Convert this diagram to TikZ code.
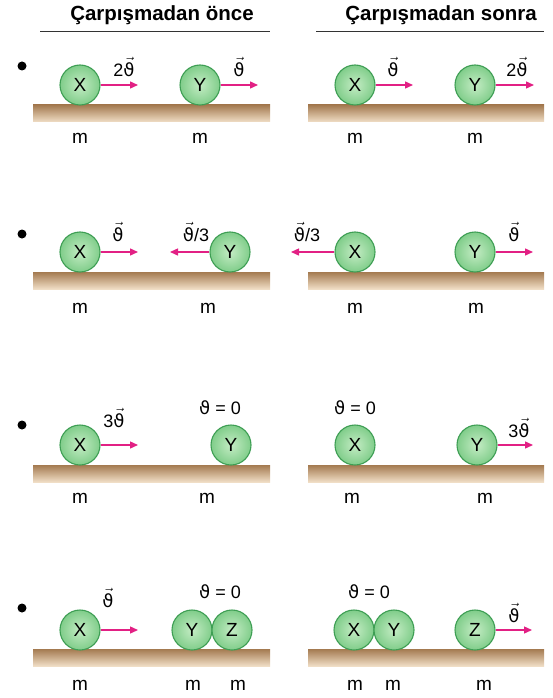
\documentclass[tikz,border=0pt]{standalone}
\usepackage{fontspec}
\setmainfont{Liberation Sans}
\newfontfamily\thetafont{DejaVu Sans}
\usetikzlibrary{positioning,arrows.meta,calc}
\definecolor{ballin}{RGB}{196,236,196}
\definecolor{ballout}{RGB}{128,205,138}
\definecolor{balledge}{RGB}{62,158,84}
\definecolor{velpink}{RGB}{226,32,132}
\definecolor{groundtop}{RGB}{164,122,80}
\definecolor{groundbot}{RGB}{240,222,198}
\newcommand{\vth}{\ensuremath{\vec{\hbox{\thetafont ϑ}}}}
\newcommand{\thz}{{\thetafont ϑ}}

\begin{document}
\begin{tikzpicture}[x=1pt, y=1pt,
    ball/.style={circle, draw=balledge, line width=1.1pt, inner color=ballin, outer color=ballout,
                 minimum size=40pt, inner sep=0pt, font=\fontsize{19}{19}\selectfont},
    ground/.style={top color=groundtop, bottom color=groundbot},
    vel/.style={-{Triangle[length=8pt, width=7pt]}, velpink, line width=1.4pt},
    vlbl/.style={font=\fontsize{18}{18}\selectfont, inner sep=0pt},
    mass/.style={font=\fontsize{19}{19}\selectfont},
    hdr/.style={font=\fontsize{20.5}{20.5}\selectfont\bfseries},
    dot/.style={circle, fill=black, minimum size=9pt, inner sep=0pt}
  ]
  \useasboundingbox (0,0) rectangle (552,-698);

  % ===== Headers =====
  \node[hdr] (before) at (162,-15) {Çarpışmadan önce};
  \node[hdr] (after)  at (441,-15) {Çarpışmadan sonra};
  \draw[line width=1pt, black!80] (40,-32) -- (270,-32);
  \draw[line width=1pt, black!80] (316,-32) -- (544,-32);

  % ===== Floors and bullets =====
  \foreach \yt/\yb/\yd in {105/122/66, 272/289/234, 465/482/425, 649/666/608} {
    \shade[ground] (33,-\yt) rectangle (270,-\yb);
    \shade[ground] (308,-\yt) rectangle (544,-\yb);
    \node[dot] at (22,-\yd) {};
  }

  % ===== Row 1 =====
  \node[ball] (x1a) at (80,-85)  {X};
  \node[ball] (y1a) at (200,-85) {Y};
  \coordinate (x1aend) at (138,-85);
  \coordinate (y1aend) at (258,-85);
  \draw[vel] (x1a.east) -- (x1aend);
  \draw[vel] (y1a.east) -- (y1aend);
  \node[vlbl] at (124,-67) {2\vth};
  \node[vlbl] at (239,-67) {\vth};
  \node[mass] at (80,-138)  {m};
  \node[mass] at (200,-138) {m};

  \node[ball] (x1b) at (355,-85) {X};
  \node[ball] (y1b) at (475,-85) {Y};
  \coordinate (x1bend) at (413,-85);
  \coordinate (y1bend) at (534,-85);
  \draw[vel] (x1b.east) -- (x1bend);
  \draw[vel] (y1b.east) -- (y1bend);
  \node[vlbl] at (393,-67) {\vth};
  \node[vlbl] at (517,-67) {2\vth};
  \node[mass] at (355,-138) {m};
  \node[mass] at (475,-138) {m};

  % ===== Row 2 =====
  \node[ball] (x2a) at (80,-252)  {X};
  \node[ball] (y2a) at (230,-252) {Y};
  \coordinate (x2aend) at (138,-252);
  \coordinate (y2aend) at (170,-252);
  \draw[vel] (x2a.east) -- (x2aend);
  \draw[vel] (y2a.west) -- (y2aend);
  \node[vlbl] at (118,-232) {\vth};
  \node[vlbl] at (196,-232) {\vth/3};
  \node[mass] at (80,-308)  {m};
  \node[mass] at (208,-308) {m};

  \node[ball] (x2b) at (355,-252) {X};
  \node[ball] (y2b) at (475,-252) {Y};
  \coordinate (x2bend) at (291,-252);
  \coordinate (y2bend) at (533,-252);
  \draw[vel] (x2b.west) -- (x2bend);
  \draw[vel] (y2b.east) -- (y2bend);
  \node[vlbl] at (307,-232) {\vth/3};
  \node[vlbl] at (514,-232) {\vth};
  \node[mass] at (355,-308) {m};
  \node[mass] at (476,-308) {m};

  % ===== Row 3 =====
  \node[ball] (x3a) at (80,-445)  {X};
  \node[ball] (y3a) at (231,-445) {Y};
  \coordinate (x3aend) at (138,-445);
  \draw[vel] (x3a.east) -- (x3aend);
  \node[vlbl] at (114,-418) {3\vth};
  \node[vlbl] at (220,-408) {\thz{} = 0};
  \node[mass] at (80,-498)  {m};
  \node[mass] at (207,-498) {m};

  \node[ball] (x3b) at (355,-445) {X};
  \node[ball] (y3b) at (477,-445) {Y};
  \coordinate (y3bend) at (533,-445);
  \draw[vel] (y3b.east) -- (y3bend);
  \node[vlbl] at (355,-408) {\thz{} = 0};
  \node[vlbl] at (519,-428) {3\vth};
  \node[mass] at (352,-498) {m};
  \node[mass] at (485,-498) {m};

  % ===== Row 4 =====
  \node[ball] (x4a) at (80,-630)  {X};
  \node[ball] (y4a) at (192,-630) {Y};
  \node[ball] (z4a) at (232,-630) {Z};
  \coordinate (x4aend) at (138,-630);
  \draw[vel] (x4a.east) -- (x4aend);
  \node[vlbl] at (108,-598) {\vth};
  \node[vlbl] at (220,-592) {\thz{} = 0};
  \node[mass] at (80,-685)  {m};
  \node[mass] at (193,-685) {m};
  \node[mass] at (238,-685) {m};

  \node[ball] (x4b) at (354,-630) {X};
  \node[ball] (y4b) at (394,-630) {Y};
  \node[ball] (z4b) at (475,-630) {Z};
  \coordinate (z4bend) at (532,-630);
  \draw[vel] (z4b.east) -- (z4bend);
  \node[vlbl] at (369,-592) {\thz{} = 0};
  \node[vlbl] at (514,-613) {\vth};
  \node[mass] at (355,-685) {m};
  \node[mass] at (393,-685) {m};
  \node[mass] at (484,-685) {m};
\end{tikzpicture}
\end{document}
